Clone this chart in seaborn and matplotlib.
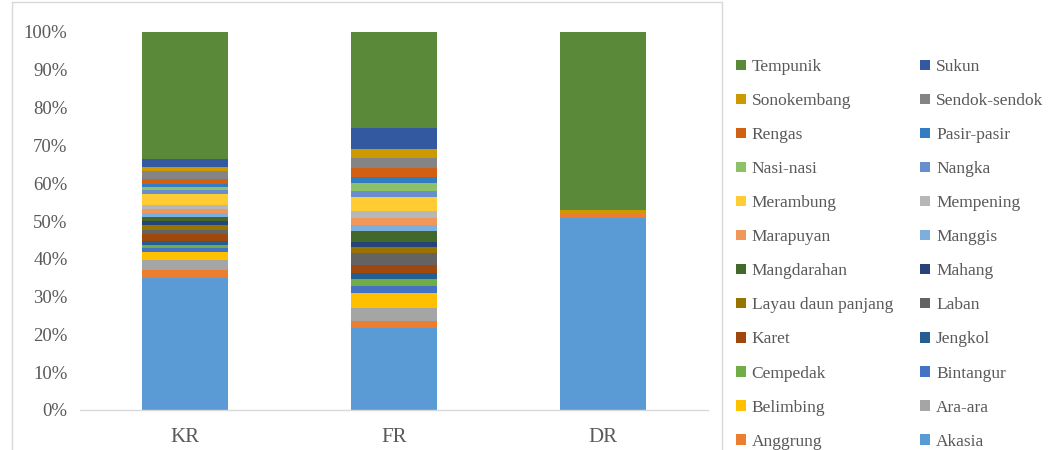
import numpy as np
import pandas as pd
import matplotlib
matplotlib.use("Agg")
import matplotlib.pyplot as plt
from matplotlib.lines import Line2D
from matplotlib.patches import Patch
import seaborn as sns

categories = ["KR", "FR", "DR"]
species = ["Akasia", "Anggrung", "Ara-ara", "Belimbing", "Bintangur", "Cempedak",
           "Jengkol", "Karet", "Laban", "Layau daun panjang", "Mahang", "Mangdarahan",
           "Manggis", "Marapuyan", "Mempening", "Merambung", "Nangka", "Nasi-nasi",
           "Pasir-pasir", "Rengas", "Sendok-sendok", "Sonokembang", "Sukun", "Tempunik"]

kr = [34.8, 2.0, 2.8, 2.2, 0.9, 0.9, 0.9, 2.0, 0.9, 1.5, 1.0, 1.0,
      1.0, 1.0, 1.1, 2.9, 1.0, 1.0, 0.8, 1.3, 2.0, 1.0, 2.1, 33.6]
fr = [21.6, 2.0, 3.3, 4.0, 1.9, 1.8, 1.6, 2.2, 3.1, 1.7, 1.3, 2.7,
      1.7, 1.8, 1.8, 3.8, 1.5, 2.2, 1.7, 2.2, 2.6, 2.4, 5.5, 25.5]
dr = [50.9, 1.0, 0.0, 0.0, 0.0, 0.0, 0.0, 0.0, 0.0, 0.0, 0.0, 0.0,
      0.0, 0.0, 0.0, 0.0, 0.0, 0.0, 0.0, 0.0, 0.0, 1.1, 0.0, 47.0]

colors = ["#5B9BD5", "#ED7D31", "#A5A5A5", "#FFC000", "#4472C4", "#70AD47",
          "#255E91", "#9E480E", "#636363", "#997300", "#264478", "#43682B",
          "#7CAFDD", "#F1975A", "#B7B7B7", "#FFCD33", "#698ED0", "#8CC168",
          "#327DC2", "#D26012", "#848484", "#CC9A00", "#335AA1", "#5A8A39"]

sns.set_theme(style="white")
plt.rcParams['font.family'] = ['Liberation Serif', 'DejaVu Serif']
text_color = "#595959"

data = np.array([kr, fr, dr], dtype=float)  # shape (3, 24)
data = data / data.sum(axis=1, keepdims=True)

fig = plt.figure(figsize=(10.48, 4.5), dpi=100)
ax = fig.add_axes([80 / 1048, 40 / 450, 628 / 1048, 378 / 450])

bottom = np.zeros(len(categories))
for i, sp in enumerate(species):
    df = pd.DataFrame({"cat": categories, "val": data[:, i]})
    sns.barplot(data=df, x="cat", y="val", color=colors[i], saturation=1,
                width=0.41, bottom=bottom.copy(), ax=ax, linewidth=0,
                order=categories)
    bottom += data[:, i]

ax.set_ylim(0, 1)
ax.set_xlim(-0.5, 2.5)
ax.set_yticks(np.arange(0, 1.01, 0.1))
ax.set_yticklabels([f"{int(round(v * 100))}%" for v in np.arange(0, 1.01, 0.1)])
ax.set_xlabel("")
ax.set_ylabel("")
ax.tick_params(axis="y", length=0, labelsize=13.5, colors=text_color, pad=9)
ax.tick_params(axis="x", length=0, labelsize=15, colors=text_color, pad=13)
for s in ["top", "right", "left"]:
    ax.spines[s].set_visible(False)
ax.spines["bottom"].set_color("#D9D9D9")
ax.spines["bottom"].set_linewidth(1)
ax.grid(False)

# legend: Excel reversed order, two columns filled row-wise
rev = list(range(len(species)))[::-1]
col1 = rev[0::2]
col2 = rev[1::2]
order = col1 + col2
handles = [Patch(facecolor=colors[i], edgecolor="none") for i in order]
labels = [species[i] for i in order]
leg = fig.legend(handles, labels, ncol=2, loc="upper left",
                 bbox_to_anchor=(736 / 1048, 1 - 59 / 450),
                 frameon=False, fontsize=12.5, labelspacing=1.04,
                 handlelength=0.55, handleheight=0.55, handletextpad=0.35,
                 columnspacing=1.58, borderaxespad=0, borderpad=0)
for t in leg.get_texts():
    t.set_color(text_color)

# chart frame lines
lc = "#D9D9D9"
fig.add_artist(Line2D([12 / 1048, 12 / 1048], [0, 1 - 2 / 450], color=lc, lw=1))
fig.add_artist(Line2D([12 / 1048, 722 / 1048], [1 - 2 / 450, 1 - 2 / 450], color=lc, lw=1))
fig.add_artist(Line2D([722 / 1048, 722 / 1048], [0, 1 - 2 / 450], color=lc, lw=1))

fig.savefig("out.png", dpi=100, facecolor="white")
